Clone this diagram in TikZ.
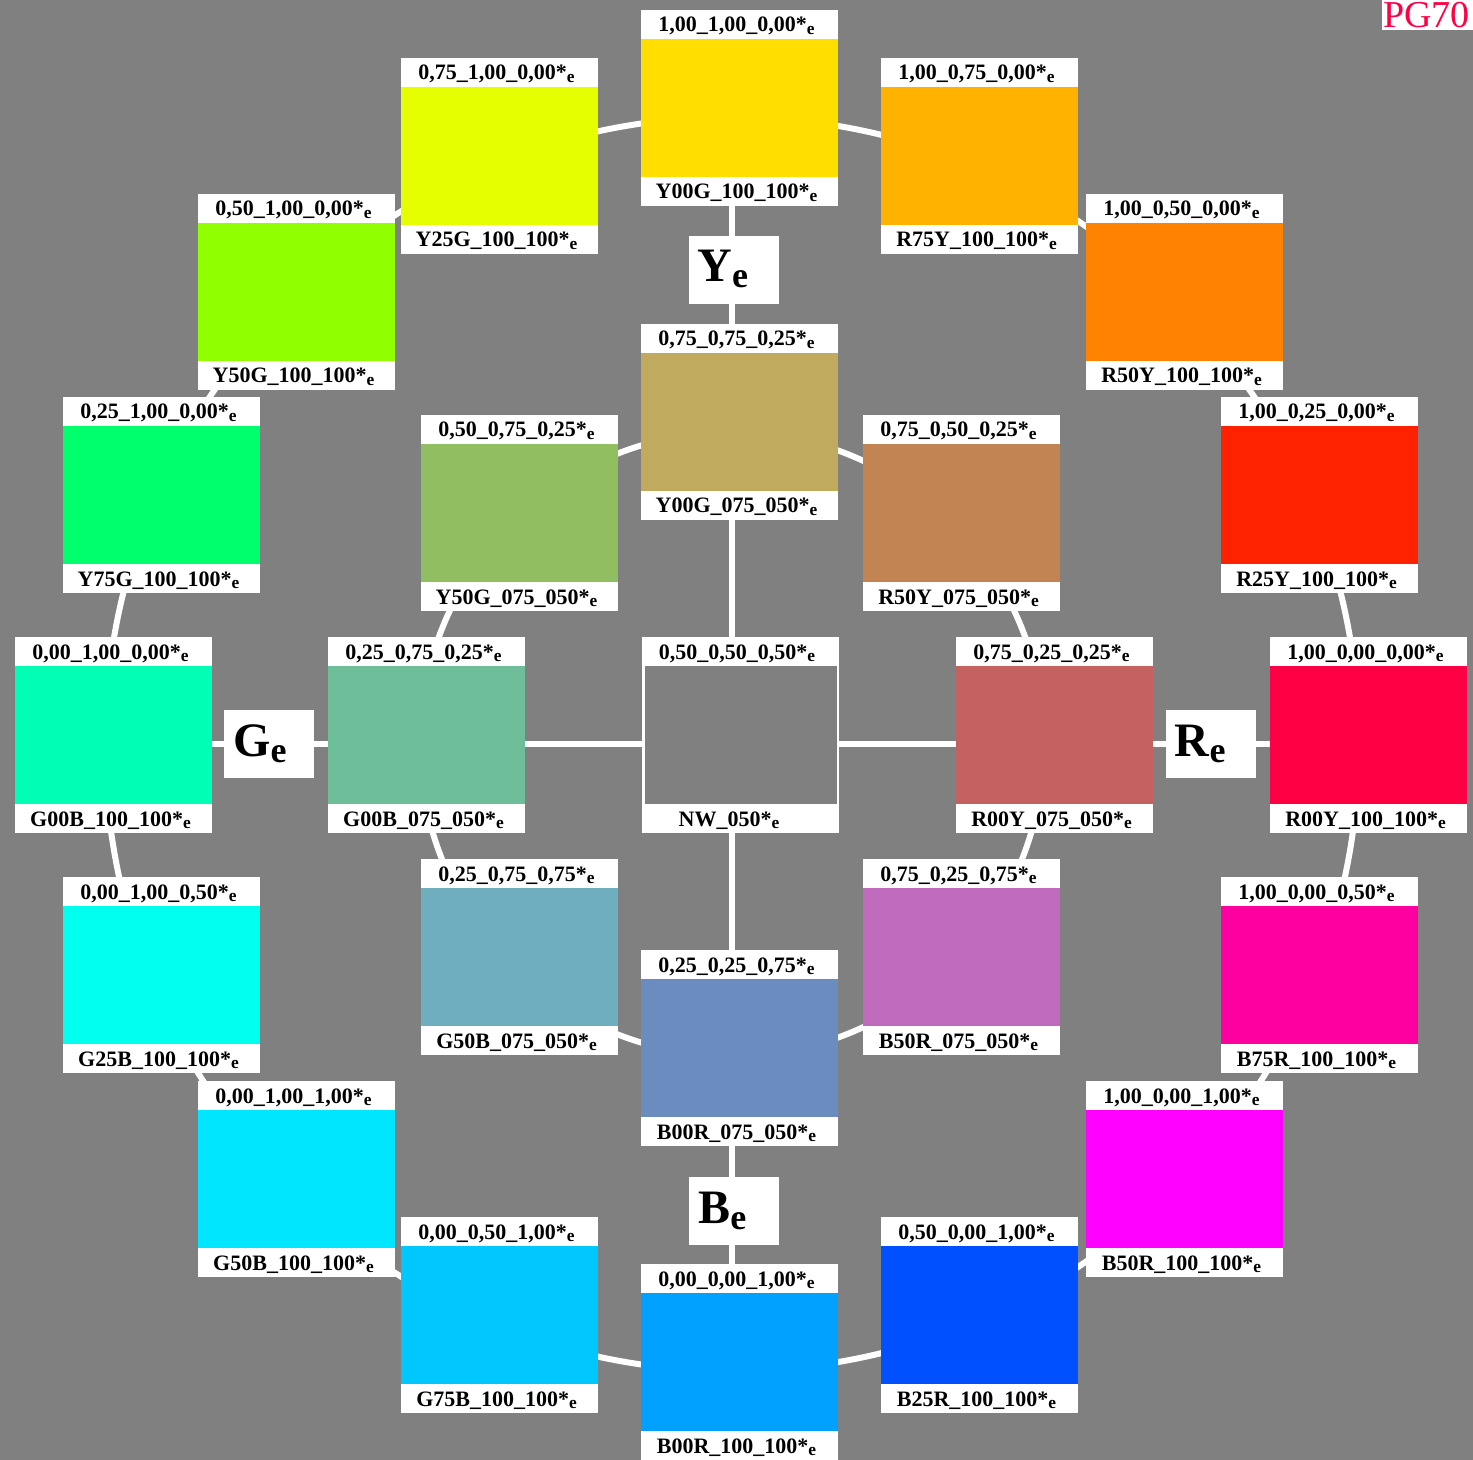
\documentclass[tikz,border=0pt]{standalone}
\usepackage{fontspec}
\setmainfont{Liberation Serif}
\definecolor{bg}{HTML}{808080}
\definecolor{cY00G}{HTML}{FFDE00}
\definecolor{cR75Y}{HTML}{FFB200}
\definecolor{cR50Y}{HTML}{FF8200}
\definecolor{cR25Y}{HTML}{FF2200}
\definecolor{cR00Y}{HTML}{FF0044}
\definecolor{cB75R}{HTML}{FF00A0}
\definecolor{cB50R}{HTML}{FF00FF}
\definecolor{cB25R}{HTML}{0050FF}
\definecolor{cB00R}{HTML}{00A0FF}
\definecolor{cG75B}{HTML}{00C8FF}
\definecolor{cG50B}{HTML}{00E6FF}
\definecolor{cG25B}{HTML}{00FFEF}
\definecolor{cG00B}{HTML}{00FFB4}
\definecolor{cY75G}{HTML}{00FF6C}
\definecolor{cY50G}{HTML}{90FF00}
\definecolor{cY25G}{HTML}{E6FF00}
\definecolor{dY00G}{HTML}{C0AA5E}
\definecolor{dR50Y}{HTML}{C38454}
\definecolor{dR00Y}{HTML}{C46262}
\definecolor{dB50R}{HTML}{C06ABE}
\definecolor{dB00R}{HTML}{6A8CBE}
\definecolor{dG50B}{HTML}{6EAEBE}
\definecolor{dG00B}{HTML}{6EBE9A}
\definecolor{dY50G}{HTML}{92BE62}
\tikzset{
  wbox/.style={fill=white, draw=none, minimum width=98.5pt, minimum height=98pt, inner sep=0pt, outer sep=0pt},
  lab/.style={anchor=base, inner sep=0pt, font=\fontsize{11}{13}\selectfont\bfseries},
  big/.style={anchor=base west, inner sep=0pt, font=\fontsize{24}{28}\selectfont\bfseries},
  letbox/.style={fill=white, draw=none, minimum width=45pt, minimum height=34pt, inner sep=0pt, outer sep=0pt},
  conn/.style={draw=white, line width=3pt},
}
\newcommand\se{\raisebox{-1.3pt}{\fontsize{8.7}{9}\selectfont e}}
\newcommand\bse{\raisebox{-3pt}{\fontsize{18}{20}\selectfont e}}
\newcommand\cbox[6]{%
  \node[wbox] (#1) at (#2+98.5,#3+98) {};
  \fill[#4] (#2,#3+29) rectangle (#2+197,#3+167);
  \node[lab] (#1t) at (#2+95.5,#3+22) {#5\se};
  \node[lab] (#1b) at (#2+95.5,#3+189) {#6\se};
}
\begin{document}
\begin{tikzpicture}[x=0.5pt,y=-0.5pt]
\fill[bg] (0,0) rectangle (1473,1460);
\useasboundingbox (0,0) rectangle (1473,1460);
\coordinate (O) at (732,744);
% rings
\draw[conn] (O) circle[radius=313.5pt];
\draw[conn] (O) circle[radius=156pt];
% outer ring
\cbox{Y00G100}{641}{10}{cY00G}{1,00\_1,00\_0,00*}{Y00G\_100\_100*}
\cbox{R75Y100}{881}{58}{cR75Y}{1,00\_0,75\_0,00*}{R75Y\_100\_100*}
\cbox{R50Y100}{1086}{194}{cR50Y}{1,00\_0,50\_0,00*}{R50Y\_100\_100*}
\cbox{R25Y100}{1221}{397}{cR25Y}{1,00\_0,25\_0,00*}{R25Y\_100\_100*}
\cbox{R00Y100}{1270}{637}{cR00Y}{1,00\_0,00\_0,00*}{R00Y\_100\_100*}
\cbox{B75R100}{1221}{877}{cB75R}{1,00\_0,00\_0,50*}{B75R\_100\_100*}
\cbox{B50R100}{1086}{1081}{cB50R}{1,00\_0,00\_1,00*}{B50R\_100\_100*}
\cbox{B25R100}{881}{1217}{cB25R}{0,50\_0,00\_1,00*}{B25R\_100\_100*}
\cbox{B00R100}{641}{1264}{cB00R}{0,00\_0,00\_1,00*}{B00R\_100\_100*}
\cbox{G75B100}{401}{1217}{cG75B}{0,00\_0,50\_1,00*}{G75B\_100\_100*}
\cbox{G50B100}{198}{1081}{cG50B}{0,00\_1,00\_1,00*}{G50B\_100\_100*}
\cbox{G25B100}{63}{877}{cG25B}{0,00\_1,00\_0,50*}{G25B\_100\_100*}
\cbox{G00B100}{15}{637}{cG00B}{0,00\_1,00\_0,00*}{G00B\_100\_100*}
\cbox{Y75G100}{63}{397}{cY75G}{0,25\_1,00\_0,00*}{Y75G\_100\_100*}
\cbox{Y50G100}{198}{194}{cY50G}{0,50\_1,00\_0,00*}{Y50G\_100\_100*}
\cbox{Y25G100}{401}{58}{cY25G}{0,75\_1,00\_0,00*}{Y25G\_100\_100*}
% cross connectors
\draw[conn] (O |- Y00G100.south) -- (O |- B00R100.north);
\draw[conn] (O -| G00B100.east) -- (O -| R00Y100.west);
% inner ring
\cbox{Y00G075}{641}{324}{dY00G}{0,75\_0,75\_0,25*}{Y00G\_075\_050*}
\cbox{R50Y075}{863}{415}{dR50Y}{0,75\_0,50\_0,25*}{R50Y\_075\_050*}
\cbox{R00Y075}{956}{637}{dR00Y}{0,75\_0,25\_0,25*}{R00Y\_075\_050*}
\cbox{B50R075}{863}{859}{dB50R}{0,75\_0,25\_0,75*}{B50R\_075\_050*}
\cbox{B00R075}{641}{950}{dB00R}{0,25\_0,25\_0,75*}{B00R\_075\_050*}
\cbox{G50B075}{421}{859}{dG50B}{0,25\_0,75\_0,75*}{G50B\_075\_050*}
\cbox{G00B075}{328}{637}{dG00B}{0,25\_0,75\_0,25*}{G00B\_075\_050*}
\cbox{Y50G075}{421}{415}{dY50G}{0,50\_0,75\_0,25*}{Y50G\_075\_050*}
% centre
\node[wbox] (NW) at (740,735) {};
\fill[bg] (644.5,666) rectangle (836.5,804);
\node[lab] (NWt) at (737,659) {0,50\_0,50\_0,50*\se};
\node[lab] (NWb) at (729,826) {NW\_050*\se};
% letter boxes
\node[letbox] (Ye) at (734,270) {};
\node[big] (Yet) at (697,282) {Y\bse};
\node[letbox] (Be) at (734,1210.5) {};
\node[big] (Bet) at (698,1223) {B\bse};
\node[letbox] (Ge) at (269,743.5) {};
\node[big] (Get) at (233,756.5) {G\bse};
\node[letbox] (Re) at (1210.5,743.5) {};
\node[big] (Ret) at (1174.5,756.5) {R\bse};
% corner mark
\node[fill=white, inner sep=0pt, outer sep=0pt, minimum width=45.5pt, minimum height=15pt, anchor=north east] (pgbox) at (1473,0) {};
\node[anchor=base west, inner sep=0pt, text=cR00Y, font=\fontsize{19}{22}\selectfont] (pg) at (1383,27.5) {PG70};
\end{tikzpicture}
\end{document}
